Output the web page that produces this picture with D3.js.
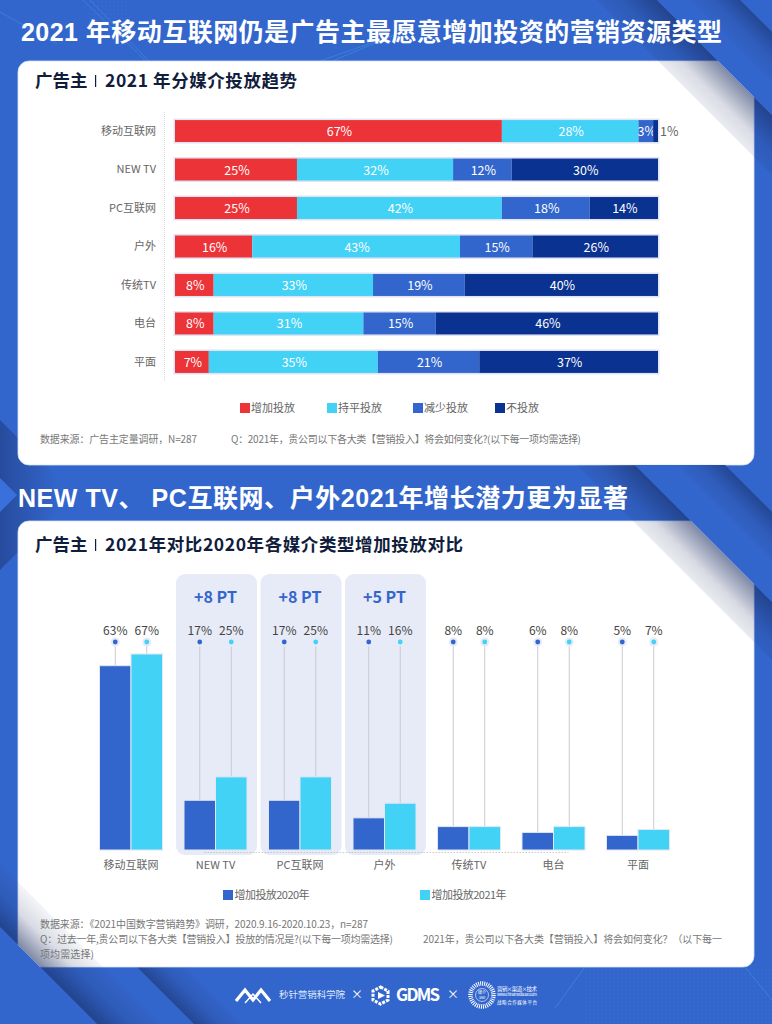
<!DOCTYPE html>
<html>
<head>
<meta charset="utf-8">
<script src="https://cdn.jsdelivr.net/npm/d3@7"></script>
<style>
  html, body { margin: 0; padding: 0; background: #3366cc; }
  svg { display: block; }
  text { font-family: "Noto Sans CJK SC", "Noto Sans", sans-serif; }
  text.head { font-family: "Liberation Sans", "Noto Sans CJK SC", sans-serif; }
</style>
</head>
<body>
<svg id="page"></svg>
<script>
// Data
const MEDIA = ["移动互联网", "NEW TV", "PC互联网", "户外", "传统TV", "电台", "平面"];

const TREND_KEYS   = ["增加投放", "持平投放", "减少投放", "不投放"];
const TREND_COLORS = ["#ec3337", "#42d2f6", "#3366cc", "#0a3290"];
const INCREASE = [67, 25, 25, 16, 8, 8, 7];
const FLAT     = [28, 32, 42, 43, 33, 31, 35];
const DECREASE = [3, 12, 18, 15, 19, 15, 21];
const NONE     = [1, 30, 14, 26, 40, 46, 37];

const YEAR_KEYS = ["增加投放2020年", "增加投放2021年"];
const Y2020 = [63, 17, 17, 11, 8, 6, 5];
const Y2021 = [67, 25, 25, 16, 8, 8, 7];
const DELTA_MEDIA  = ["NEW TV", "PC互联网", "户外"];
const DELTA_LABELS = ["+8 PT", "+8 PT", "+5 PT"];

const W = 772, H = 1024;
const BLUE = "#3366cc", CYAN = "#42d2f6";

const svg = d3.select("#page").attr("width", W).attr("height", H).attr("viewBox", `0 0 ${W} ${H}`);
const defs = svg.append("defs");

// ── Background ───────────────────────────────────────────────
svg.append("rect").attr("width", W).attr("height", H).attr("fill", BLUE);

// shadow gradient running from (x1,y1) at full strength to (x2,y2) at nothing
function shadowGrad(id, x1, y1, x2, y2, op) {
  const g = defs.append("linearGradient").attr("id", id)
    .attr("gradientUnits", "userSpaceOnUse")
    .attr("x1", x1).attr("y1", y1).attr("x2", x2).attr("y2", y2);
  g.append("stop").attr("offset", 0).attr("stop-color", "#16275c").attr("stop-opacity", op);
  g.append("stop").attr("offset", 0.45).attr("stop-color", "#16275c").attr("stop-opacity", op * 0.3);
  g.append("stop").attr("offset", 1).attr("stop-color", "#16275c").attr("stop-opacity", 0);
}

function poly(layer, pts, fill) {
  layer.append("polygon").attr("points", pts.map(p => p.join(",")).join(" ")).attr("fill", fill);
}

// Faint teal mesh, behind everything else
const dots = defs.append("pattern").attr("id", "meshDots").attr("patternUnits", "userSpaceOnUse")
  .attr("width", 4).attr("height", 4);
dots.append("circle").attr("cx", 2).attr("cy", 2).attr("r", 0.6).attr("fill", "#52d6f0");
svg.append("rect").attr("x", 585).attr("y", 967).attr("width", 187).attr("height", 57)
  .attr("fill", "url(#meshDots)").attr("opacity", 0.16);
svg.append("rect").attr("x", 88).attr("y", 0).attr("width", 40).attr("height", 30)
  .attr("fill", "url(#meshDots)").attr("opacity", 0.14);

const mesh = svg.append("g").attr("fill", "none").attr("stroke", "#52d6f0");
[[0,12,57,44],[83,0,147,62],[90,0,150,62],[317,62,400,33],[330,62,392,36]].forEach(m => {
  mesh.append("line").attr("x1", m[0]).attr("y1", m[1]).attr("x2", m[2]).attr("y2", m[3])
    .attr("stroke-opacity", 0.28).attr("stroke-width", 0.8);
});
[[585,967,555,1008],[745,967,772,1000]].forEach(m => {
  mesh.append("line").attr("x1", m[0]).attr("y1", m[1]).attr("x2", m[2]).attr("y2", m[3])
    .attr("stroke-opacity", 0.3).attr("stroke-width", 0.8);
});

// Left chevron between the two cards
const chevG = defs.append("linearGradient").attr("id", "chevOuter")
  .attr("gradientUnits", "userSpaceOnUse").attr("x1", 0).attr("y1", 495).attr("x2", 58).attr("y2", 495);
chevG.append("stop").attr("offset", 0).attr("stop-color", "#16275c").attr("stop-opacity", 0.42);
chevG.append("stop").attr("offset", 1).attr("stop-color", "#16275c").attr("stop-opacity", 0);
poly(svg, [[0, 420], [75, 495], [0, 570]], "url(#chevOuter)");
poly(svg, [[0, 478], [17, 495], [0, 512]], "#3a70dc");

// Bottom left second stripe
shadowGrad("s3b", 165, 995, 195, 965, 0.5);
poly(svg, [[137, 967], [194, 1024], [242, 1024], [185, 967]], "url(#s3b)");

// ── Cards ────────────────────────────────────────────────────
const CARD_L = 18, CARD_W = 736;
[[61, 404], [521, 446]].forEach(c => {
  svg.append("rect").attr("x", CARD_L).attr("y", c[0]).attr("width", CARD_W).attr("height", c[1])
    .attr("rx", 11).attr("fill", "#fff").attr("stroke", "#d5dff5").attr("stroke-width", 0.8);
});

// Corner folds cover the card and throw a shadow on it
shadowGrad("f1", 737, 80, 695, 122, 0.55);
poly(svg, [[657, 0], [772, 115], [772, 175], [597, 0]], "url(#f1)");
poly(svg, [[657, 0], [740, 0], [772, 32], [772, 115]], BLUE);
shadowGrad("s1b", 756, 16, 726, 46, 0.5);
poly(svg, [[740, 0], [772, 32], [772, 82], [690, 0]], "url(#s1b)");

shadowGrad("f2", 722, 552, 680, 594, 0.55);
poly(svg, [[635, 465], [772, 602], [772, 660], [577, 465]], "url(#f2)");
poly(svg, [[635, 465], [725, 465], [772, 512], [772, 602]], BLUE);
shadowGrad("s2b", 748, 488, 718, 518, 0.5);
poly(svg, [[725, 465], [772, 512], [772, 560], [677, 465]], "url(#s2b)");

shadowGrad("f3", 25, 952, 62, 915, 0.55);
poly(svg, [[0, 927], [97, 1024], [160, 1024], [0, 864]], "url(#f3)");
poly(svg, [[0, 927], [97, 1024], [0, 1024]], BLUE);

// ── Headings ─────────────────────────────────────────────────
svg.append("text").attr("class", "head").attr("x", 21).attr("y", 41).attr("fill", "#fff")
  .attr("font-size", 25).attr("font-weight", 700).attr("textLength", 701)
  .text("2021 年移动互联网仍是广告主最愿意增加投资的营销资源类型");
svg.append("text").attr("class", "head").attr("x", 18).attr("y", 507).attr("fill", "#fff")
  .attr("font-size", 25).attr("font-weight", 700).attr("textLength", 610)
  .text("NEW TV、 PC互联网、户外2021年增长潜力更为显著");

function cardTitle(y, txt, len) {
  const g = svg.append("g").attr("fill", "#111d3c").attr("font-weight", 700).attr("font-size", 17.5);
  g.append("text").attr("x", 35).attr("y", y).text("广告主");
  g.append("rect").attr("x", 95).attr("y", y - 12).attr("width", 1.2).attr("height", 12);
  g.append("text").attr("x", 105).attr("y", y).attr("textLength", len).text(txt);
}
cardTitle(87, "2021 年分媒介投放趋势", 192);
cardTitle(551, "2021年对比2020年各媒介类型增加投放对比", 358);

// ── Chart 1: stacked bars ────────────────────────────────────
const trendRows = MEDIA.map((m, i) => ({
  media: m,
  [TREND_KEYS[0]]: INCREASE[i],
  [TREND_KEYS[1]]: FLAT[i],
  [TREND_KEYS[2]]: DECREASE[i],
  [TREND_KEYS[3]]: NONE[i],
}));
// each row fills the full width, several only add up to 99
const stacked = d3.stack().keys(TREND_KEYS).offset(d3.stackOffsetExpand)(trendRows);

const barX = d3.scaleLinear().domain([0, 1]).range([175, 658]);
const barY = d3.scaleBand().domain(MEDIA).range([112, 381]).paddingInner(0.43).paddingOuter(0.21);
const trendColor = d3.scaleOrdinal().domain(TREND_KEYS).range(TREND_COLORS);

const c1 = svg.append("g");

c1.append("line").attr("x1", 164.5).attr("x2", 164.5).attr("y1", 112).attr("y2", 381)
  .attr("stroke", "#d9d9d9").attr("stroke-dasharray", "1 1");

c1.selectAll(".bar-bg").data(MEDIA).join("rect")
  .attr("x", barX(0)).attr("width", barX(1) - barX(0))
  .attr("y", d => barY(d)).attr("height", barY.bandwidth())
  .attr("fill", "none").attr("stroke", "#dfe3f2").attr("stroke-width", 3);

stacked.forEach(layer => {
  const g = c1.append("g");
  g.selectAll("rect").data(layer).join("rect")
    .attr("x", d => barX(d[0])).attr("width", d => barX(d[1]) - barX(d[0]))
    .attr("y", d => barY(d.data.media)).attr("height", barY.bandwidth())
    .attr("fill", trendColor(layer.key));
  g.selectAll("text").data(layer).join("text")
    .attr("x", d => d.data[layer.key] === 1 ? barX(1) + 2 : barX((d[0] + d[1]) / 2) + 1)
    .attr("y", d => barY(d.data.media) + barY.bandwidth() / 2 + 0.5)
    .attr("dy", "0.36em")
    .attr("text-anchor", d => d.data[layer.key] === 1 ? "start" : "middle")
    .attr("font-size", 12.5)
    .attr("fill", d => d.data[layer.key] === 1 ? "#666" : "#fff")
    .text(d => d.data[layer.key] + "%");
});

c1.selectAll(".cat").data(MEDIA).join("text")
  .attr("x", 156).attr("y", d => barY(d) + barY.bandwidth() / 2).attr("dy", "0.36em")
  .attr("text-anchor", "end").attr("font-size", 11).attr("fill", "#666").text(d => d);

// legend 1
const legend1X = d3.scaleOrdinal().domain(TREND_KEYS).range([240, 327, 413, 495]);
const lg1 = c1.selectAll(".lg").data(TREND_KEYS).join("g")
  .attr("transform", d => `translate(${legend1X(d)},403)`);
lg1.append("rect").attr("width", 10).attr("height", 10).attr("fill", d => trendColor(d));
lg1.append("text").attr("x", 11).attr("y", 5).attr("dy", "0.36em")
  .attr("font-size", 11).attr("fill", "#666").text(d => d);

function note(x, y, txt, len) {
  svg.append("text").attr("x", x).attr("y", y).attr("dy", "0.36em")
    .attr("font-size", 10).attr("fill", "#777").attr("textLength", len).text(txt);
}
note(40, 439, "数据来源：广告主定量调研，N=287", 157);
note(231, 439, "Q：2021年，贵公司以下各大类【营销投入】将会如何变化?(以下每一项均需选择)", 350);

// ── Chart 2: grouped bars with lollipop stems ────────────────
const yearRows = MEDIA.map((m, i) => ({ media: m, v: [Y2020[i], Y2021[i]] }));

const groupX = d3.scaleBand().domain(MEDIA).range([88.75, 680.25]);
const innerX = d3.scaleBand().domain([0, 1]).range([groupX.bandwidth() / 2 - 31.5, groupX.bandwidth() / 2 + 31.5]);
const valY = d3.scaleLinear().domain([0, 67]).range([850, 654]);
const DOT_Y = 642;
const yearColor = [BLUE, CYAN];

const c2 = svg.append("g");

// highlight panels behind the three groups that grew most
const panels = c2.selectAll(".panel").data(DELTA_MEDIA).join("g");
panels.append("rect")
  .attr("x", d => groupX(d) + groupX.bandwidth() / 2 - 39.5)
  .attr("width", 81).attr("y", 574).attr("height", 281).attr("rx", 9)
  .attr("fill", "#e7eaf7");
panels.append("text")
  .attr("x", d => groupX(d) + groupX.bandwidth() / 2)
  .attr("y", 597).attr("dy", "0.36em").attr("text-anchor", "middle")
  .attr("font-size", 16).attr("font-weight", 700).attr("fill", BLUE)
  .text((d, i) => DELTA_LABELS[i]);

// dotted base line
c2.append("line").attr("y1", 852.5).attr("y2", 852.5)
  .attr("x1", groupX("NEW TV") + groupX.bandwidth() / 2 - 11)
  .attr("x2", groupX("电台") + groupX.bandwidth() / 2 + 15)
  .attr("stroke", "#bdbdbd").attr("stroke-width", 0.8).attr("stroke-dasharray", "1.5 1.5");

const groups = c2.selectAll(".grp").data(yearRows).join("g")
  .attr("transform", d => `translate(${groupX(d.media)},0)`);

[0, 1].forEach(k => {
  const cx = innerX(k) + innerX.bandwidth() / 2;
  groups.append("line").attr("x1", cx).attr("x2", cx).attr("y1", DOT_Y)
    .attr("y2", d => valY(d.v[k])).attr("stroke", "#c9cad2").attr("stroke-width", 1);
  groups.append("circle").attr("cx", cx).attr("cy", DOT_Y).attr("r", 4.5).attr("fill", "#e7eaf7");
  groups.append("circle").attr("cx", cx).attr("cy", DOT_Y).attr("r", 2.4).attr("fill", yearColor[k]);
  groups.append("text").attr("x", cx).attr("y", 631).attr("dy", "0.36em").attr("text-anchor", "middle")
    .attr("font-size", 12).attr("fill", "#444").text(d => d.v[k] + "%");
});
[0, 1].forEach(k => {
  groups.append("rect").attr("x", innerX(k)).attr("width", innerX.bandwidth())
    .attr("y", d => valY(d.v[k])).attr("height", d => valY(0) - valY(d.v[k]))
    .attr("fill", yearColor[k]).attr("stroke", "#e3e6f3").attr("stroke-width", 1);
});

groups.append("text")
  .attr("x", groupX.bandwidth() / 2).attr("y", 865.5).attr("dy", "0.36em")
  .attr("text-anchor", "middle").attr("font-size", 11).attr("fill", "#666").text(d => d.media);

// legend 2
const legend2X = d3.scaleOrdinal().domain(YEAR_KEYS).range([223, 420]);
const lg2 = c2.selectAll(".lg2").data(YEAR_KEYS).join("g")
  .attr("transform", d => `translate(${legend2X(d)},890)`);
lg2.append("rect").attr("width", 10).attr("height", 10).attr("fill", (d, i) => yearColor[i]);
lg2.append("text").attr("x", 11.5).attr("y", 5).attr("dy", "0.36em")
  .attr("font-size", 11).attr("fill", "#666").attr("textLength", 75).text(d => d);

note(40, 924, "数据来源：《2021中国数字营销趋势》调研，2020.9.16-2020.10.23，n=287", 328);
note(40, 939, "Q：过去一年,贵公司以下各大类【营销投入】投放的情况是?(以下每一项均需选择)", 353);
note(423, 939, "2021年，贵公司以下各大类【营销投入】将会如何变化？（以下每一", 299);
note(40, 954, "项均需选择)", 54);

// ── Footer logos ─────────────────────────────────────────────
const foot = svg.append("g").attr("fill", "#fff");
foot.append("path").attr("fill", "none").attr("stroke", "#fff").attr("stroke-width", 3.2)
  .attr("d", "M236,1001 L245,990 L253,1000 L261,990 L270,1001");
foot.append("path").attr("fill", "none").attr("stroke", "#fff").attr("stroke-width", 1.4)
  .attr("d", "M245,1003 L253,994 L261,1003");
foot.append("text").attr("x", 279).attr("y", 995).attr("dy", "0.36em").attr("font-size", 9.5)
  .attr("textLength", 66).attr("fill", "#dce6fa").text("秒针营销科学院");
foot.append("text").attr("x", 357).attr("y", 995).attr("dy", "0.36em").attr("text-anchor", "middle")
  .attr("font-size", 12).text("×");
foot.append("path").attr("fill", "none").attr("stroke", "#fff").attr("stroke-width", 3)
  .attr("stroke-dasharray", "3 1.2")
  .attr("d", "M380.5,987 L388,991 L388,1000 L380.5,1004 L373,1000 L373,991 Z");
foot.append("path").attr("d", "M378,992 L385,995.5 L378,999 Z");
foot.append("text").attr("x", 396).attr("y", 995).attr("dy", "0.36em").attr("font-size", 17)
  .attr("font-weight", 700).attr("font-family", "Roboto, sans-serif").attr("textLength", 44).text("GDMS");
foot.append("text").attr("x", 453).attr("y", 995).attr("dy", "0.36em").attr("text-anchor", "middle")
  .attr("font-size", 12).text("×");
foot.append("circle").attr("cx", 482).attr("cy", 995).attr("r", 11.5).attr("fill", "none")
  .attr("stroke", "#fff").attr("stroke-width", 4.5).attr("stroke-dasharray", "1 1");
foot.append("circle").attr("cx", 482).attr("cy", 995).attr("r", 6.5).attr("fill", "none")
  .attr("stroke", "#fff").attr("stroke-width", 0.6);
foot.append("text").attr("x", 482).attr("y", 993).attr("dy", "0.36em").attr("text-anchor", "middle")
  .attr("font-size", 4).text("媒介");
foot.append("text").attr("x", 482).attr("y", 998).attr("dy", "0.36em").attr("text-anchor", "middle")
  .attr("font-size", 4).text("360");
foot.append("text").attr("x", 497).attr("y", 989).attr("dy", "0.36em").attr("font-size", 5.5).attr("textLength", 40).text("营销×渠道×技术");
foot.append("text").attr("x", 497).attr("y", 995).attr("dy", "0.36em").attr("font-size", 4).attr("textLength", 40).text("www.chinamedia360.com");
foot.append("text").attr("x", 497).attr("y", 1002).attr("dy", "0.36em").attr("font-size", 4.5).attr("textLength", 40).text("战略合作媒体平台");
</script>
</body>
</html>
